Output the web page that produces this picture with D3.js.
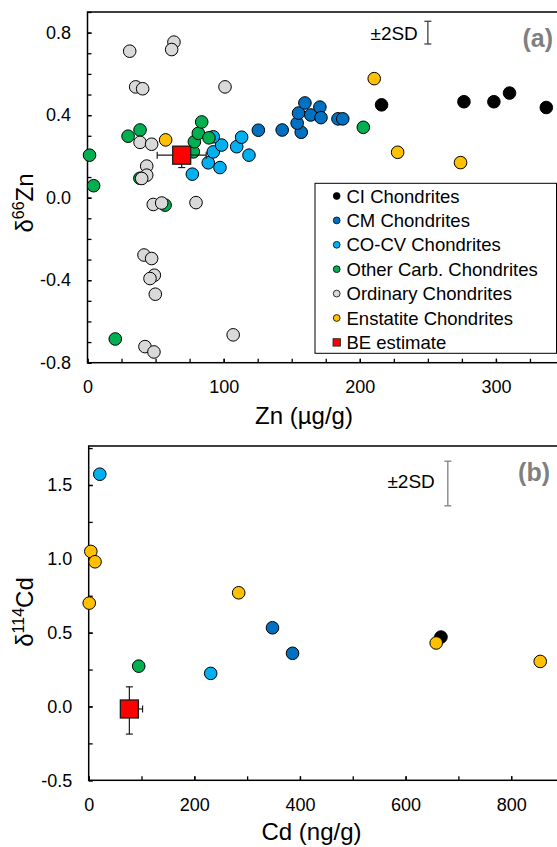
<!DOCTYPE html>
<html>
<head>
<meta charset="utf-8">
<script src="https://d3js.org/d3.v7.min.js"></script>
<style>
  html, body { margin: 0; padding: 0; background: #fff; overflow: hidden; }
  svg { display: block; }
</style>
</head>
<body>
<svg id="chart" width="557" height="847"></svg>
<script>
const FONT = '"Liberation Sans", Arial, sans-serif';

// groups, in legend and drawing order
const groupNames = ["CI Chondrites", "CM Chondrites", "CO-CV Chondrites", "Other Carb. Chondrites",
  "Ordinary Chondrites", "Enstatite Chondrites", "BE estimate"];
const groupColors = ["#000000", "#0070C0", "#00B0F0", "#00B050", "#D9D9D9", "#FFC000", "#FF0000"];

// (a) Zn (µg/g) vs d66Zn
const ciZn = [[216, 0.45], [276.5, 0.465], [298.5, 0.465], [310, 0.507], [337, 0.437]];
const cmZn = [[125.5, 0.327], [143, 0.328], [157, 0.317], [154, 0.361], [155, 0.41], [159.7, 0.459],
  [164, 0.401], [170.7, 0.439], [171.5, 0.388], [184, 0.382], [187.5, 0.382]];
const cocvZn = [[77, 0.114], [88.7, 0.169], [97.3, 0.146], [92.4, 0.222], [98.5, 0.255], [92.4, 0.295],
  [109.6, 0.247], [113.2, 0.293], [118.6, 0.206]];
const otherZn = [[1.5, 0.206], [4.5, 0.058], [20.4, -0.685], [29.8, 0.298], [38.6, 0.328], [38.5, 0.094],
  [57, -0.036], [77.7, 0.222], [78.5, 0.271], [81.4, 0.312], [83.9, 0.367], [89.2, 0.29], [202.6, 0.341]];
const ordZn = [[31, 0.71], [63.5, 0.754], [61.8, 0.718], [35.4, 0.537], [40.5, 0.528], [101, 0.537],
  [38.6, 0.268], [47.1, 0.259], [43.5, 0.153], [43.5, 0.109], [39.8, 0.093], [48.3, -0.033],
  [54.5, -0.026], [79.7, -0.024], [41.5, -0.278], [47.1, -0.295], [49.1, -0.376], [45.9, -0.392],
  [49.8, -0.468], [107, -0.665], [42.2, -0.722], [48.8, -0.748]];
const enstZn = [[57.4, 0.28], [210.6, 0.577], [227.8, 0.22], [274, 0.17]];
const beZn = [69.2, 0.206];
const beZnErrX = [18, 18];      // minus, plus
const beZnErrY = [0.06, 0.04];  // minus, plus
const sdZn = [250, 0.8, 0.055]; // x, centre, half length

const znTicksX = [0, 100, 200, 300];
const znTicksY = [-0.8, -0.4, 0.0, 0.4, 0.8];

// (b) Cd (ng/g) vs d114Cd
const ciCd = [[667, 0.47]];
const cmCd = [[348, 0.533], [386, 0.36]];
const cocvCd = [[21, 1.573], [231, 0.224]];
const otherCd = [[94.7, 0.273]];
const ordCd = [];
const enstCd = [[4, 1.05], [12, 0.98], [1, 0.70], [284, 0.77], [658, 0.43], [855, 0.305]];
const beCd = [77, -0.017];
const beCdErrX = [16, 25];
const beCdErrY = [0.17, 0.15];
const sdCd = [680, 1.51, 0.151];

const cdTicksX = [0, 200, 400, 600, 800];
const cdTicksY = [-0.5, 0.0, 0.5, 1.0, 1.5];

const svg = d3.select("#chart");

function drawPanel(cfg) {
  const x = d3.scaleLinear().domain(cfg.xDomain).range([cfg.left, cfg.right]);
  const y = d3.scaleLinear().domain(cfg.yDomain).range([cfg.bottom, cfg.top]);
  const g = svg.append("g");

  // frame (right side runs past the picture edge)
  g.append("rect")
    .attr("x", cfg.left).attr("y", cfg.top)
    .attr("width", cfg.right - cfg.left).attr("height", cfg.bottom - cfg.top)
    .attr("fill", "none").attr("stroke", "#000").attr("stroke-width", 1.5);

  // ticks point inside
  const styleAxis = (a) => {
    a.select(".domain").remove();
    a.selectAll("line").attr("stroke", "#000").attr("stroke-width", 1.3);
    a.attr("font-size", 18).attr("font-family", FONT);
    a.selectAll("text").attr("fill", "#000");
  };
  g.append("g").attr("transform", `translate(0,${cfg.bottom})`)
    .call(d3.axisBottom(x).tickValues(cfg.xMinor).tickSize(-4).tickSizeOuter(0).tickFormat(""))
    .call(styleAxis);
  g.append("g").attr("transform", `translate(0,${cfg.bottom})`)
    .call(d3.axisBottom(x).tickValues(cfg.xTicks).tickSize(-4).tickSizeOuter(0).tickPadding(17.5)
      .tickFormat((d) => d))
    .call(styleAxis);
  g.append("g").attr("transform", `translate(${cfg.left},0)`)
    .call(d3.axisLeft(y).tickValues(cfg.yMinor).tickSize(-4).tickSizeOuter(0).tickFormat(""))
    .call(styleAxis);
  g.append("g").attr("transform", `translate(${cfg.left},0)`)
    .call(d3.axisLeft(y).tickValues(cfg.yTicks).tickSize(-4).tickSizeOuter(0).tickPadding(16.5)
      .tickFormat((d) => d.toFixed(1)))
    .call(styleAxis);

  // axis titles
  const yt = g.append("text")
    .attr("transform", `translate(33,${cfg.yTitleY}) rotate(-90)`)
    .attr("text-anchor", "middle").attr("font-family", FONT).attr("font-size", 24);
  yt.append("tspan").text("δ");
  yt.append("tspan").attr("font-size", 16).attr("dy", -9).text(cfg.yTitleSup);
  yt.append("tspan").attr("dy", 9).text(cfg.yTitleEl);

  g.append("text")
    .attr("x", cfg.xTitleX).attr("y", cfg.xTitleY)
    .attr("text-anchor", "middle").attr("font-family", FONT).attr("font-size", 24)
    .text(cfg.xTitle);

  // ±2SD bar
  const sdx = x(cfg.sd[0]);
  const sdTop = y(cfg.sd[1] + cfg.sd[2]);
  const sdBot = y(cfg.sd[1] - cfg.sd[2]);
  const sdG = g.append("g").attr("stroke", cfg.sdColor).attr("stroke-width", 1.3);
  sdG.append("line").attr("x1", sdx).attr("x2", sdx).attr("y1", sdTop).attr("y2", sdBot);
  sdG.append("line").attr("x1", sdx - 3.5).attr("x2", sdx + 3.5).attr("y1", sdTop).attr("y2", sdTop);
  sdG.append("line").attr("x1", sdx - 3.5).attr("x2", sdx + 3.5).attr("y1", sdBot).attr("y2", sdBot);
  g.append("text")
    .attr("x", sdx - cfg.sdGap).attr("y", cfg.sdTextY)
    .attr("text-anchor", "end").attr("font-family", FONT).attr("font-size", 19)
    .text("±2SD");

  // panel letter
  g.append("text")
    .attr("x", cfg.letterX).attr("y", cfg.letterY)
    .attr("text-anchor", "end").attr("font-family", FONT).attr("font-size", 25)
    .attr("font-weight", "bold").attr("fill", "#7f7f7f")
    .text(cfg.letter);

  // sample groups
  cfg.groups.forEach((pts, i) => {
    g.append("g").selectAll("circle")
      .data(pts).enter().append("circle")
      .attr("cx", (d) => x(d[0]))
      .attr("cy", (d) => y(d[1]))
      .attr("r", 6.3)
      .attr("fill", groupColors[i])
      .attr("stroke", "#000")
      .attr("stroke-width", 1);
  });

  // BE estimate with error bars
  const bx = x(cfg.be[0]), by = y(cfg.be[1]);
  const xl = x(cfg.be[0] - cfg.beErrX[0]), xr = x(cfg.be[0] + cfg.beErrX[1]);
  const yl = y(cfg.be[1] - cfg.beErrY[0]), yh = y(cfg.be[1] + cfg.beErrY[1]);
  const eb = g.append("g").attr("stroke", "#1a1a1a").attr("stroke-width", 1.2);
  eb.append("line").attr("x1", xl).attr("x2", xr).attr("y1", by).attr("y2", by);
  eb.append("line").attr("x1", xl).attr("x2", xl).attr("y1", by - 3.5).attr("y2", by + 3.5);
  eb.append("line").attr("x1", xr).attr("x2", xr).attr("y1", by - 3.5).attr("y2", by + 3.5);
  eb.append("line").attr("x1", bx).attr("x2", bx).attr("y1", yh).attr("y2", yl);
  eb.append("line").attr("x1", bx - 3.5).attr("x2", bx + 3.5).attr("y1", yh).attr("y2", yh);
  eb.append("line").attr("x1", bx - 3.5).attr("x2", bx + 3.5).attr("y1", yl).attr("y2", yl);
  g.append("rect")
    .attr("x", bx - 9).attr("y", by - 9).attr("width", 18).attr("height", 18)
    .attr("fill", groupColors[6]).attr("stroke", "#1a1a1a").attr("stroke-width", 1.3);
}

drawPanel({
  left: 87.5, right: 564, top: 12, bottom: 362.7,
  xDomain: [0, 350], yDomain: [-0.8, 0.9],
  xTicks: znTicksX, xMinor: d3.range(0, 351, 25),
  yTicks: znTicksY, yMinor: d3.range(-8, 10).map((v) => v / 10),
  xTitle: "Zn (µg/g)", xTitleX: 304, xTitleY: 424,
  yTitleSup: "66", yTitleEl: "Zn", yTitleY: 203,
  sd: sdZn, sdColor: "#404040", sdGap: 10, sdTextY: 40,
  letter: "(a)", letterX: 553, letterY: 47,
  groups: [ciZn, cmZn, cocvZn, otherZn, ordZn, enstZn],
  be: beZn, beErrX: beZnErrX, beErrY: beZnErrY
});

drawPanel({
  left: 88.7, right: 564, top: 446, bottom: 780.3,
  xDomain: [0, 900], yDomain: [-0.5, 1.764],
  xTicks: cdTicksX, xMinor: d3.range(0, 901, 100),
  yTicks: cdTicksY, yMinor: d3.range(-2, 8).map((v) => v / 4),
  xTitle: "Cd (ng/g)", xTitleX: 311.5, xTitleY: 840,
  yTitleSup: "114", yTitleEl: "Cd", yTitleY: 612,
  sd: sdCd, sdColor: "#808080", sdGap: 13, sdTextY: 488,
  letter: "(b)", letterX: 550, letterY: 481,
  groups: [ciCd, cmCd, cocvCd, otherCd, ordCd, enstCd],
  be: beCd, beErrX: beCdErrX, beErrY: beCdErrY
});

// legend (panel a)
const legend = svg.append("g").attr("font-family", FONT).attr("font-size", 18.5);
legend.append("rect")
  .attr("x", 315).attr("y", 183.3).attr("width", 241.5).attr("height", 170)
  .attr("fill", "#fff").attr("stroke", "#000").attr("stroke-width", 1);
const rowY = (i) => 196 + i * 24.4;
groupNames.forEach((name, i) => {
  if (i < 6) {
    legend.append("circle")
      .attr("cx", 336.7).attr("cy", rowY(i)).attr("r", 3.4)
      .attr("fill", groupColors[i]).attr("stroke", "#000").attr("stroke-width", 0.8);
  } else {
    legend.append("rect")
      .attr("x", 333).attr("y", rowY(i) - 3.7).attr("width", 7.4).attr("height", 7.4)
      .attr("fill", groupColors[i]).attr("stroke", "#1a1a1a").attr("stroke-width", 0.8);
  }
  legend.append("text")
    .attr("x", 346.5).attr("y", rowY(i) + 6.6)
    .text(name);
});
</script>
</body>
</html>
